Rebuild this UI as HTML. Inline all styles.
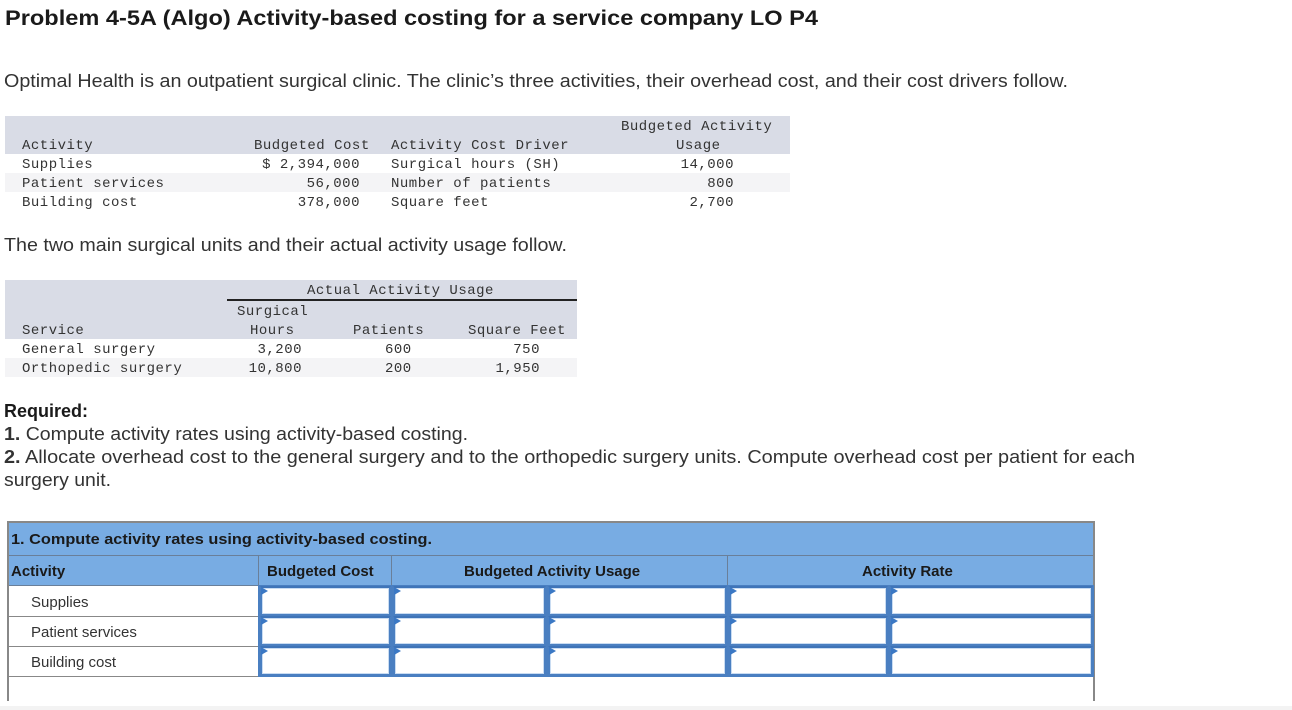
<!DOCTYPE html>
<html><head><meta charset="utf-8">
<style>
body{margin:0;width:1292px;height:710px;background:#fff;position:relative;overflow:hidden;font-family:"Liberation Sans",sans-serif;color:#222}
.a{position:absolute;white-space:nowrap}
.fit{transform-origin:0 0;display:inline-block}
.m{font-family:"Liberation Mono",monospace;font-size:14px;color:#333;position:absolute;white-space:nowrap;letter-spacing:0.5px;line-height:19px;margin-top:2px}
.r{text-align:right}
.band{position:absolute}
.inp{position:absolute;box-sizing:border-box;border:2px solid #4a7fc1;border-top-color:#3f74b8;background:#fff;box-shadow:inset 0 0 0 1px #c9dcf2}
.inp:before{content:"";position:absolute;left:-1px;top:-1px;border-left:7px solid #3b78c4;border-top:4px solid transparent;border-bottom:4px solid transparent}
</style></head><body>
<div class="a" style="left:5px;top:7px;font-size:21px;font-weight:bold;color:#1a1a1a"><span class="fit" data-w="813">Problem 4-5A (Algo) Activity-based costing for a service company LO P4</span></div>
<div class="a" style="left:4px;top:71px;font-size:18px;color:#333"><span class="fit" data-w="1064">Optimal Health is an outpatient surgical clinic. The clinic’s three activities, their overhead cost, and their cost drivers follow.</span></div>

<div>
<div class="band" style="left:5px;top:116px;width:785px;height:38px;background:#d9dce6"></div>
<div class="band" style="left:5px;top:173px;width:785px;height:19px;background:#f4f4f6"></div>
<div class="m" style="left:22px;top:135px">Activity</div>
<div class="m" style="left:254px;top:135px">Budgeted Cost</div>
<div class="m" style="left:391px;top:135px">Activity Cost Driver</div>
<div class="m" style="left:621px;top:116px">Budgeted Activity</div>
<div class="m" style="left:676px;top:135px">Usage</div>
<div class="m" style="left:22px;top:154px">Supplies</div>
<div class="m" style="left:22px;top:173px">Patient services</div>
<div class="m" style="left:22px;top:192px">Building cost</div>
<div class="m r" style="left:200px;width:160px;top:154px">$ 2,394,000</div>
<div class="m r" style="left:200px;width:160px;top:173px">56,000</div>
<div class="m r" style="left:200px;width:160px;top:192px">378,000</div>
<div class="m" style="left:391px;top:154px">Surgical hours (SH)</div>
<div class="m" style="left:391px;top:173px">Number of patients</div>
<div class="m" style="left:391px;top:192px">Square feet</div>
<div class="m r" style="left:600px;width:134px;top:154px">14,000</div>
<div class="m r" style="left:600px;width:134px;top:173px">800</div>
<div class="m r" style="left:600px;width:134px;top:192px">2,700</div>
</div>

<div class="a" style="left:4px;top:235px;font-size:18px;color:#333"><span class="fit" data-w="563">The two main surgical units and their actual activity usage follow.</span></div>

<div>
<div class="band" style="left:5px;top:280px;width:572px;height:59px;background:#d9dce6"></div>
<div class="band" style="left:5px;top:358px;width:572px;height:19px;background:#f4f4f6"></div>
<div class="band" style="left:227px;top:299px;width:350px;height:2px;background:#222"></div>
<div class="m" style="left:307px;top:280px">Actual Activity Usage</div>
<div class="m" style="left:237px;top:301px">Surgical</div>
<div class="m" style="left:250px;top:320px">Hours</div>
<div class="m" style="left:353px;top:320px">Patients</div>
<div class="m" style="left:468px;top:320px">Square Feet</div>
<div class="m" style="left:22px;top:320px">Service</div>
<div class="m" style="left:22px;top:339px">General surgery</div>
<div class="m" style="left:22px;top:358px">Orthopedic surgery</div>
<div class="m r" style="left:200px;width:102px;top:339px">3,200</div>
<div class="m r" style="left:200px;width:102px;top:358px">10,800</div>
<div class="m" style="left:385px;top:339px">600</div>
<div class="m" style="left:385px;top:358px">200</div>
<div class="m r" style="left:450px;width:90px;top:339px">750</div>
<div class="m r" style="left:450px;width:90px;top:358px">1,950</div>
</div>

<div class="a" style="left:4px;top:401px;font-size:18px;font-weight:bold;color:#1a1a1a">Required:</div>
<div class="a" style="left:4px;top:424px;font-size:18px;color:#333"><span class="fit" data-w="464"><b>1.</b> Compute activity rates using activity-based costing.</span></div>
<div class="a" style="left:4px;top:447px;font-size:18px;color:#333"><span class="fit" data-w="1131"><b>2.</b> Allocate overhead cost to the general surgery and to the orthopedic surgery units. Compute overhead cost per patient for each</span></div>
<div class="a" style="left:4px;top:470px;font-size:18px;color:#333"><span class="fit" data-w="107">surgery unit.</span></div>

<div>
<div class="band" style="left:7px;top:521px;width:1088px;height:2px;background:#888"></div>
<div class="band" style="left:7px;top:521px;width:2px;height:180px;background:#888"></div>
<div class="band" style="left:1093px;top:521px;width:2px;height:180px;background:#888"></div>
<div class="band" style="left:9px;top:523px;width:1084px;height:62px;background:#78ace3"></div>
<div class="band" style="left:9px;top:555px;width:1084px;height:1px;background:#6a7f99"></div>
<div class="band" style="left:9px;top:585px;width:1084px;height:1px;background:#6a7f99"></div>
<div class="band" style="left:258px;top:555px;width:1px;height:30px;background:#6a7f99"></div>
<div class="band" style="left:391px;top:555px;width:1px;height:30px;background:#6a7f99"></div>
<div class="band" style="left:727px;top:555px;width:1px;height:30px;background:#6a7f99"></div>
<div class="a" style="left:11px;top:531px;font-size:15px;font-weight:bold;color:#1a1a1a"><span class="fit" data-w="421">1. Compute activity rates using activity-based costing.</span></div>
<div class="a" style="left:11px;top:563px;font-size:15px;font-weight:bold;color:#1a1a1a">Activity</div>
<div class="a" style="left:267px;top:563px;font-size:15px;font-weight:bold;color:#1a1a1a">Budgeted Cost</div>
<div class="a" style="left:464px;top:563px;font-size:15px;font-weight:bold;color:#1a1a1a">Budgeted Activity Usage</div>
<div class="a" style="left:862px;top:563px;font-size:15px;font-weight:bold;color:#1a1a1a">Activity Rate</div>
<div class="band" style="left:9px;top:616px;width:250px;height:1px;background:#888"></div>
<div class="band" style="left:9px;top:646px;width:250px;height:1px;background:#888"></div>
<div class="band" style="left:9px;top:676px;width:250px;height:1px;background:#888"></div>
<div class="a" style="left:31px;top:594px;font-size:15px;color:#333">Supplies</div>
<div class="a" style="left:31px;top:624px;font-size:15px;color:#333">Patient services</div>
<div class="a" style="left:31px;top:654px;font-size:15px;color:#333">Building cost</div>
<div class="band" style="left:258px;top:585px;width:836px;height:92px;background:#4a7fc1"></div>
<div id="inputs"></div>
</div>
<div class="band" style="left:0;top:706px;width:1292px;height:4px;background:#f3f3f3"></div>

<script>
var colsX=[260,393,548,729,890];
var colsR=[391,546,727,888,1093];
var rowsY=[586,616,646];
var holder=document.getElementById('inputs');
rowsY.forEach(function(y,ri){
  colsX.forEach(function(x,ci){
    var d=document.createElement('div');
    d.className='inp';
    d.style.left=x+'px';d.style.top=y+'px';
    d.style.width=(colsR[ci]-x)+'px';d.style.height='30px';
    
    
    holder.appendChild(d);
  });
});
document.querySelectorAll('.fit').forEach(function(s){
  var w=+s.getAttribute('data-w');var cw=s.getBoundingClientRect().width;
  if(cw>0)s.style.transform='scaleX('+(w/cw)+')';
});
</script>
</body></html>
